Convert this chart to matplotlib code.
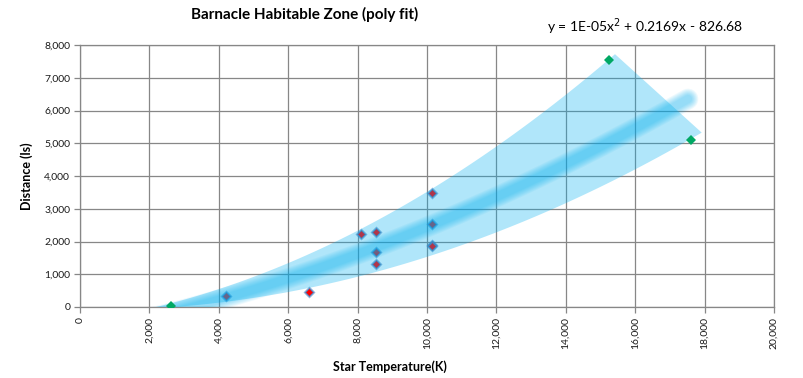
import numpy as np
import matplotlib
matplotlib.use("Agg")
import matplotlib.pyplot as plt
from matplotlib.ticker import FuncFormatter

plt.rcParams['font.family'] = ['Lato', 'DejaVu Sans']

# star temperature (K) vs distance (ls)
red_temp = [4200, 6600, 8100, 8540, 8540, 8540, 10150, 10150, 10150, 10150]
red_dist = [330, 450, 2220, 2280, 1670, 1300, 3470, 2545, 1900, 1870]
green_temp = [2620, 15250, 17600]
green_dist = [20, 7550, 5100]

# trendline, as printed on the chart (leading term shown rounded as 1E-05)
trend_coef = [1.1e-5, 0.2169, -826.68]
trend_label = "y = 1E-05x$^2$ + 0.2169x - 826.68"
trend_range = (1500, 17520)

x_ticks = list(range(0, 20001, 2000))
y_ticks = list(range(0, 8001, 1000))

grid_col = '#878787'
band_col = '#00b0f0'

fig = plt.figure(figsize=(8.04, 3.78), dpi=100)
ax = fig.add_axes([80 / 804, 1 - 307 / 378, 694 / 804, 262 / 378])

# markers first, the glowing trend band is painted over them
ax.plot(red_temp, red_dist, 'D', ms=6.5, mfc=(0.31, 0.5, 0.74, 0.6), mec='none', zorder=3)
ax.plot(red_temp, red_dist, 'D', ms=4.2, mfc='#ff0000', mec='#4f81bd', mew=0.6, zorder=3)

trend = np.poly1d(trend_coef)

# wide light "shadow" wedge of the trendline
x0 = 2000
top = np.poly1d([2.46e-5, 0.249, -50])
bot = np.poly1d([1.77e-5, 0.056, -50])
dt = np.linspace(0, 13418, 200)
db = np.linspace(15916, 0, 200)
wx = np.concatenate([dt + x0, db + x0])
wy = np.concatenate([top(dt), bot(db)])
ax.fill(wx, wy, color=band_col, alpha=0.31, lw=0, zorder=4)

# soft darker core of the trendline
tx = np.linspace(trend_range[0], trend_range[1], 300)
for lw in [15, 13.5, 12, 10.5, 9, 7.5, 6]:
    ax.plot(tx, trend(tx), color=band_col, lw=lw, alpha=0.07,
            solid_capstyle='round', zorder=5)

ax.plot(green_temp, green_dist, 'D', ms=5.5, color='#00a864', mew=0, zorder=6)

ax.set_xlim(0, 20000)
ax.set_ylim(0, 8000)
ax.set_xticks(x_ticks)
ax.set_yticks(y_ticks)
fmt = FuncFormatter(lambda v, p: f"{int(v):,}")
ax.xaxis.set_major_formatter(fmt)
ax.yaxis.set_major_formatter(fmt)
ax.tick_params(axis='x', labelrotation=90)
ax.tick_params(direction='out', length=4, color=grid_col, labelsize=7.5,
               labelcolor='#1a1a1a', width=0.9, pad=3)
ax.grid(True, color=grid_col, lw=0.9)
ax.set_axisbelow(True)
for s in ax.spines.values():
    s.set_color(grid_col)
    s.set_linewidth(0.9)

fig.text(305 / 804, 1 - 14 / 378, "Barnacle Habitable Zone (poly fit)",
         ha='center', va='center', fontsize=11, fontweight='bold')
fig.text(645 / 804, 1 - 27 / 378, trend_label, ha='center', va='center', fontsize=10)
fig.text(390 / 804, 1 - 367 / 378, "Star Temperature(K)", ha='center', va='center',
         fontsize=9, fontweight='bold')
ax.set_ylabel("Distance (ls)", fontsize=9, fontweight='bold', labelpad=8)

fig.savefig("out.png", dpi=100)
